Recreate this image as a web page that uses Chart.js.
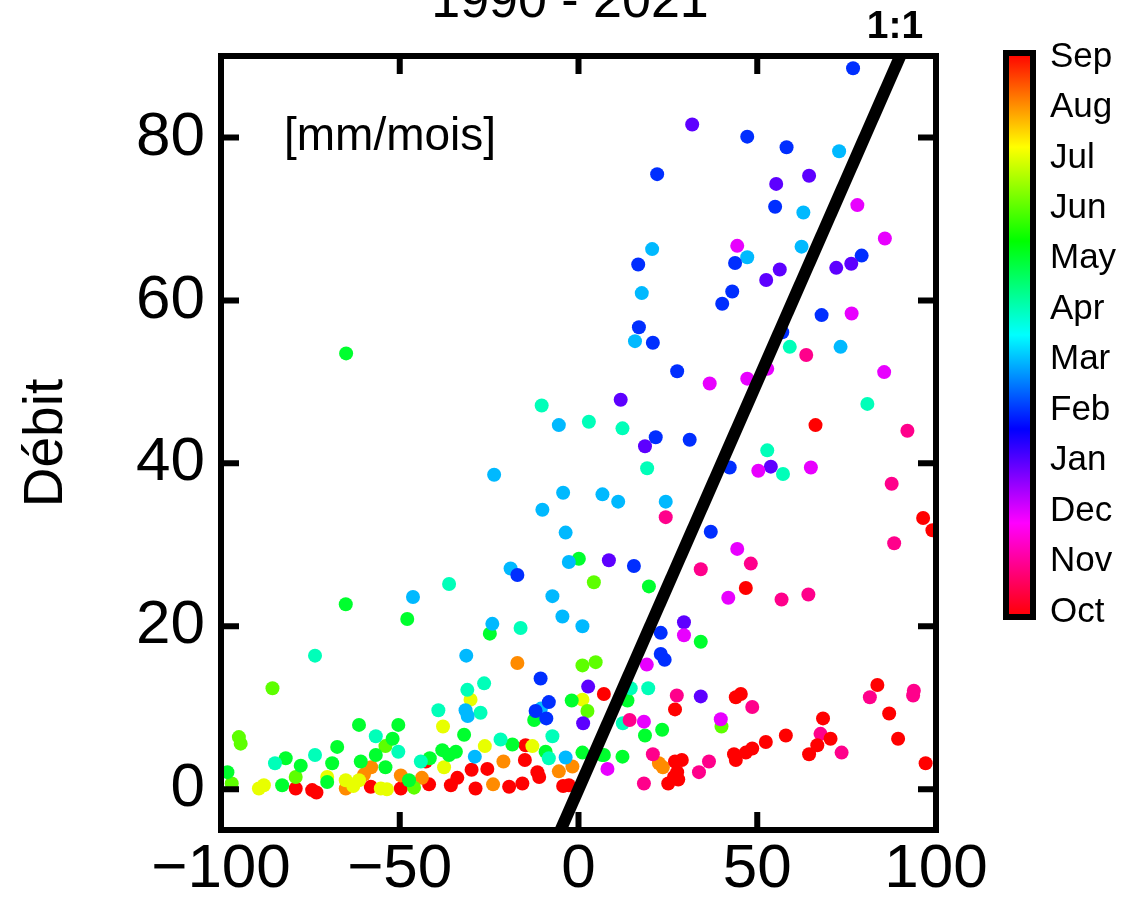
<!DOCTYPE html>
<html>
<head>
<meta charset="utf-8">
<script src="https://cdn.jsdelivr.net/npm/chart.js@4"></script>
<style>
  body { margin: 0; background: #fff; }
</style>
</head>
<body>
<canvas id="chart" width="1127" height="904"></canvas>
<script>
// monthly points [P - ETP, débit] in mm/mois, one array per month
const months = ['Oct', 'Nov', 'Dec', 'Jan', 'Feb', 'Mar', 'Apr', 'May', 'Jun', 'Jul', 'Aug', 'Sep'];

const oct = [[7.1, 11.7], [44, 11.3], [45.4, 11.7], [27, 9.8], [58, 6.6], [52.4, 5.8], [48.6, 5.0], [46.8, 4.5],
  [43.5, 4.3], [44, 3.6], [68.4, 8.7], [70.5, 6.2], [66.8, 5.4], [64.5, 4.3], [83.6, 12.8], [86.9, 9.3],
  [89.4, 6.2], [97.1, 3.2], [27, 3.4], [28.9, 3.6], [27.6, 2.1], [26.7, 1.5], [27.9, 1.2], [25.1, 0.7],
  [66.3, 44.7], [96.4, 33.3], [99, 31.8], [46.8, 24.7], [-2.7, 0.5], [-4.3, 0.4]];
const nov = [[27.5, 11.5], [48.6, 10.1], [14.3, 8.5], [67.7, 6.8], [73.6, 4.5], [81.5, 11.3], [93.8, 12.1],
  [93.6, 11.5], [20.8, 4.3], [18.3, 0.7], [33.7, 2.1], [36.5, 3.4], [24.4, 33.4], [92, 44.0], [87.6, 37.5],
  [88.3, 30.2], [48.2, 27.7], [34.2, 27], [56.8, 23.3], [64.3, 23.9], [63.7, 53.3]];
const dec = [[29.5, 18.9], [19.1, 15.3], [18.3, 8.3], [39.8, 8.6], [8.1, 2.5], [36.7, 49.8], [47.2, 50.4],
  [50.3, 39.1], [65, 39.5], [44.4, 29.5], [41.9, 23.5], [78, 71.7], [85.7, 67.6], [44.4, 66.7], [76.4, 58.4],
  [85.5, 51.2], [52.8, 51.6]];
const jan = [[2.7, 12.6], [1.3, 8.1], [29.5, 20.5], [34.2, 11.4], [11.8, 47.8], [18.6, 42.1], [53.8, 39.6],
  [8.5, 28.1], [31.8, 81.6], [55.3, 74.3], [64.5, 75.3], [56.3, 63.8], [52.5, 62.5], [72.1, 64.0], [76.3, 64.5]];
const feb = [[-10.6, 13.6], [-8.3, 10.7], [-12, 9.6], [-9, 8.7], [23, 19.2], [23, 16.6], [24.1, 15.9],
  [21.6, 43.2], [31.1, 42.9], [42.3, 39.5], [37, 31.6], [15.5, 27.4], [-17.1, 26.3], [76.8, 88.5], [47.2, 80.1],
  [58.2, 78.8], [22, 75.5], [55, 71.5], [16.7, 64.4], [43.8, 64.6], [79.2, 65.5], [43, 61.1], [40.2, 59.6],
  [16.9, 56.7], [20.8, 54.8], [68, 58.2], [57, 56.1], [27.6, 51.3]];
const mar = [[-31.4, 16.4], [-10.5, 9.9], [-31.6, 9.7], [-31, 9.0], [-29, 4], [-3.6, 3.9], [-5.5, 44.7],
  [-23.6, 38.6], [-4.3, 36.4], [-10.1, 34.3], [-3.6, 31.5], [-2.7, 27.9], [-19, 27.1], [-46.3, 23.6],
  [-7.3, 23.7], [-4.5, 21.2], [1.1, 20.0], [-24.1, 20.3], [6.7, 36.2], [11.1, 35.3], [24.4, 35.3], [72.9, 78.3],
  [62.9, 70.8], [20.6, 66.3], [62.4, 66.6], [47.2, 65.3], [17.7, 60.9], [15.8, 55.0], [73.3, 54.3]];
const apr = [[-73.7, 16.4], [-56.7, 6.5], [-50.4, 4.6], [-84.9, 3.2], [-73.7, 4.2], [-31.1, 12.2], [-26.4, 13.0],
  [-39.2, 9.7], [-27.4, 9.4], [-21.8, 6.1], [-7.3, 6.5], [-8.3, 3.8], [-44.1, 3.4], [14.6, 12.4], [19.5, 12.4],
  [12.4, 8.1], [-10.3, 47.1], [2.9, 45.1], [-36.2, 25.2], [-16.2, 19.8], [12.3, 44.3], [19.2, 39.4],
  [52.8, 41.6], [57.2, 38.7], [80.8, 47.3], [59.1, 54.3]];
const may = [[-61.4, 7.9], [-50.4, 7.9], [-52, 6.2], [-67.5, 5.2], [-81.9, 3.8], [-77.7, 2.9], [-68.9, 3.2],
  [-60.9, 3.4], [-56.7, 4.2], [-54, 2.7], [-98.2, 2.1], [-82.9, 0.5], [-70.3, 0.9], [-47.4, 1.1], [-65, 53.5],
  [-12.4, 8.5], [-1.9, 10.9], [-32, 6.7], [-18.5, 5.5], [-9.2, 4.6], [-38.1, 4.8], [-34.3, 4.6], [-36.2, 4.2],
  [-41.6, 3.8], [1.1, 4.5], [6.6, 4.2], [13.7, 10.9], [23.4, 7.3], [18.6, 6.6], [34.2, 18.1], [0.1, 28.3],
  [19.7, 24.9], [-65.1, 22.7], [-47.9, 20.9], [-24.8, 19.1], [7.1, 4.2], [12.3, 4.0]];
const jun = [[-85.6, 12.4], [-95, 6.4], [-94.5, 5.6], [-54, 5.3], [-97, 0.7], [-79.1, 1.5], [1.1, 15.2],
  [4.8, 15.6], [2.5, 9.6], [4.3, 25.4], [40, 7.7], [-46, 0.2]];
const jul = [[-89.4, 0.1], [-70.3, 1.5], [-65.1, 1.1], [-61.4, 1.1], [-55.3, 0.1], [-53.6, 0], [-30.2, 11.0],
  [1.1, 11.0], [-37.9, 7.7], [-12.9, 5.3], [-26.2, 5.3], [-37.6, 2.7], [-63, 0.4], [-88, 0.5]];
const aug = [[-58, 2.7], [-65.1, 0.1], [-49.7, 1.7], [-17.1, 15.5], [-21, 3.4], [-1.7, 2.8], [-5.5, 2.2],
  [-23.9, 0.6], [-43.8, 1.4], [22.5, 3.2], [23.6, 2.7], [-60, 1.8]];
const sep = [[-14.8, 5.4], [-15, 3.6], [-29.9, 2.4], [-25.5, 2.5], [-11.5, 2.1], [-11, 1.5], [-33.9, 1.4],
  [-35.7, 0.5], [-28.8, 0.1], [-19.4, 0.3], [-15.7, 0.7], [-42.7, 3.4], [-41.8, 0.6], [-49.7, 0.1],
  [-58.1, 0.3], [-79.1, 0.1], [-74.5, -0.1], [-73.3, -0.4]];

const byMonth = [oct, nov, dec, jan, feb, mar, apr, may, jun, jul, aug, sep];

const xTicks = [-100, -50, 0, 50, 100];
const yTicks = [0, 20, 40, 60, 80];
const oneToOne = [-6, 91];

const FONT = '"Liberation Sans", Arial, sans-serif';
Chart.defaults.font.family = FONT;
Chart.defaults.color = '#000';

// hsv colormap, Oct at the bottom, Sep at the top
function monthColor(i) {
  return 'hsl(' + (360 * (1 - i / 11)) + ', 100%, 50%)';
}

const datasets = [{
  type: 'line',
  data: oneToOne.map(v => ({x: v, y: v})),
  borderColor: '#000',
  borderWidth: 12,
  pointRadius: 0,
  clip: 0
}];
byMonth.forEach((pts, i) => {
  datasets.push({
    label: months[i],
    data: pts.map(p => ({x: p[0], y: p[1]})),
    backgroundColor: monthColor(i),
    borderWidth: 0,
    pointRadius: 7
  });
});

const decorations = {
  id: 'decorations',
  afterDatasetsDraw(chart) {
    const {ctx, chartArea: a, scales: {x, y}} = chart;
    ctx.save();
    ctx.strokeStyle = '#000';
    ctx.lineWidth = 6;
    ctx.beginPath();
    xTicks.forEach(v => {
      const px = x.getPixelForValue(v);
      ctx.moveTo(px, a.bottom); ctx.lineTo(px, a.bottom - 18);
      ctx.moveTo(px, a.top); ctx.lineTo(px, a.top + 18);
    });
    yTicks.forEach(v => {
      const py = y.getPixelForValue(v);
      ctx.moveTo(a.left, py); ctx.lineTo(a.left + 18, py);
      ctx.moveTo(a.right, py); ctx.lineTo(a.right - 18, py);
    });
    ctx.stroke();
    ctx.strokeRect(a.left, a.top, a.right - a.left, a.bottom - a.top);

    ctx.fillStyle = '#000';
    ctx.textBaseline = 'middle';
    ctx.textAlign = 'left';
    ctx.font = '46px ' + FONT;
    ctx.fillText('[mm/mois]', a.left + 63, y.getPixelForValue(80));

    ctx.textAlign = 'center';
    ctx.font = 'bold 39px ' + FONT;
    ctx.fillText('1:1', x.getPixelForValue(88.5), a.top - 29);

    ctx.textBaseline = 'alphabetic';
    ctx.font = '52px ' + FONT;
    ctx.fillText('1990 - 2021', 570, 17);

    // colour bar
    const cbL = 1006, cbT = 53, cbW = 27, cbH = 564;
    const grad = ctx.createLinearGradient(0, cbT, 0, cbT + cbH);
    for (let k = 0; k <= 36; k++) {
      grad.addColorStop(k / 36, 'hsl(' + (k * 10) + ', 100%, 50%)');
    }
    ctx.fillStyle = grad;
    ctx.fillRect(cbL, cbT, cbW, cbH);
    ctx.lineWidth = 6;
    ctx.strokeRect(cbL, cbT, cbW, cbH);

    ctx.fillStyle = '#000';
    ctx.font = '35px ' + FONT;
    ctx.textAlign = 'left';
    ctx.textBaseline = 'middle';
    months.forEach((m, i) => {
      const ly = 612 - i * (612 - 57) / 11;
      ctx.fillText(m, 1050, ly);
    });
    ctx.restore();
  }
};

new Chart(document.getElementById('chart'), {
  type: 'scatter',
  data: {datasets: datasets},
  options: {
    responsive: false,
    animation: false,
    layout: {padding: {top: 56, right: 191, left: 0, bottom: 0}},
    plugins: {legend: {display: false}, tooltip: {enabled: false}},
    scales: {
      x: {
        min: -100, max: 100,
        grid: {display: false, drawTicks: false},
        border: {display: false},
        afterBuildTicks: s => { s.ticks = xTicks.map(v => ({value: v})); },
        afterFit: s => { s.height = 74; },
        ticks: {
          padding: 3,
          font: {size: 62},
          maxRotation: 0,
          callback: v => String(v).replace('-', '\u2212')
        }
      },
      y: {
        min: -5, max: 90,
        grid: {display: false, drawTicks: false},
        border: {display: false},
        afterBuildTicks: s => { s.ticks = yTicks.map(v => ({value: v})); },
        afterFit: s => { s.width = 221; },
        title: {display: true, text: 'Débit', font: {size: 55}, padding: {top: 14, bottom: 0}},
        ticks: {padding: 16, font: {size: 62}}
      }
    }
  },
  plugins: [decorations]
});
</script>
</body>
</html>
